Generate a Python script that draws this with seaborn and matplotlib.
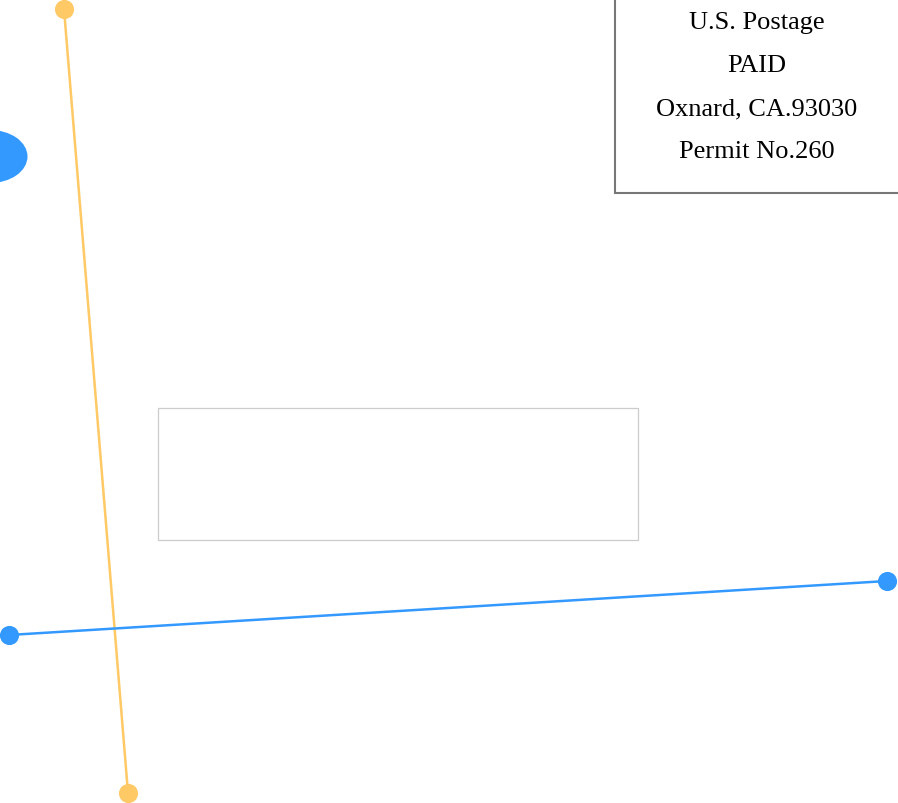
import matplotlib
matplotlib.use("Agg")
import matplotlib.pyplot as plt
import seaborn as sns
import pandas as pd
from matplotlib.patches import Rectangle, Ellipse

# canvas coordinates (pixels, y grows downwards)
W, H = 898, 804

# yellow stroke endpoints
yellow_x = [64, 128]
yellow_y = [10, 794]

# blue stroke endpoints
blue_x = [9, 887]
blue_y = [636, 582]

# postage indicia lines (baselines)
postage_lines = ["U.S. Postage", "PAID", "Oxnard, CA.93030", "Permit No.260"]
postage_y = [29, 72, 115, 158]

YELLOW = "#ffc966"
BLUE = "#3399ff"

sns.set_style("white")
plt.rcParams["font.family"] = ["Liberation Serif", "DejaVu Serif"]

fig = plt.figure(figsize=(W / 100, H / 100), dpi=100)
ax = fig.add_axes([0, 0, 1, 1])

# blue blob cut by the left edge
ax.add_patch(Ellipse((-10, 157.5), 75, 53, color=BLUE, lw=0))

# empty light-grey frame in the middle
ax.add_patch(Rectangle((158, 409), 480, 132, fill=False, ec="#cccccc", lw=0.9))

# postage box at the top right
ax.add_patch(Rectangle((615, -10), 300, 204, fill=False, ec="#777777", lw=1.5))
for txt, y in zip(postage_lines, postage_y):
    ax.text(757, y, txt, ha="center", va="baseline", fontsize=19, color="black")

yellow = pd.DataFrame({"x": yellow_x, "y": yellow_y})
blue = pd.DataFrame({"x": blue_x, "y": blue_y})

for df, c in [(yellow, YELLOW), (blue, BLUE)]:
    sns.lineplot(data=df, x="x", y="y", ax=ax, color=c, lw=1.8, sort=False, estimator=None)
    sns.scatterplot(data=df, x="x", y="y", ax=ax, color=c, s=190, linewidth=0, zorder=5)

ax.set_xlim(0, W)
ax.set_ylim(H, 0)
ax.axis("off")

fig.savefig("out.png", dpi=100)
